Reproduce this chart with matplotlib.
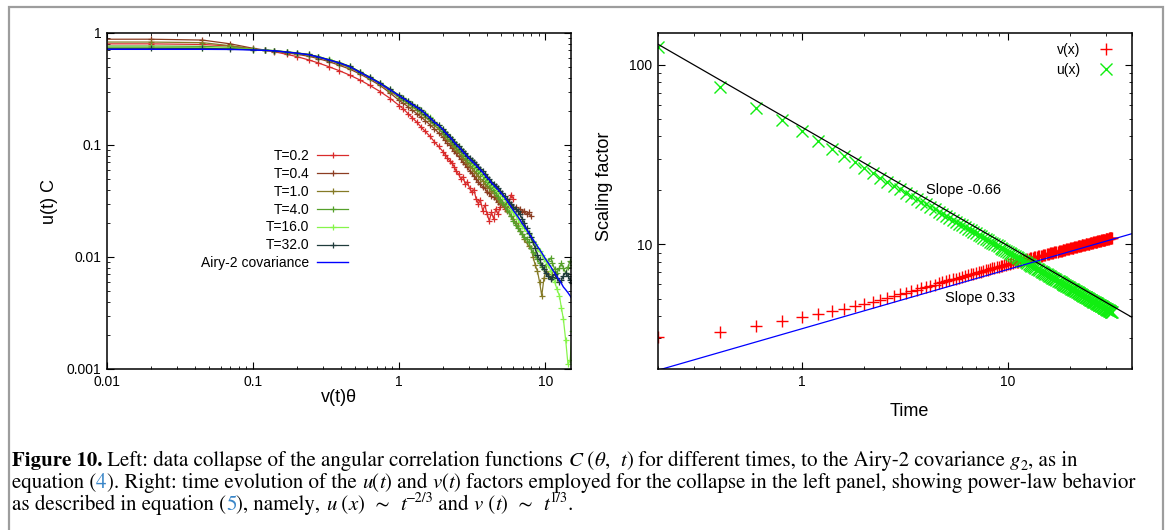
import numpy as np
import matplotlib
matplotlib.use('Agg')
import matplotlib.pyplot as plt
from matplotlib.ticker import LogLocator, NullFormatter, FuncFormatter
from matplotlib.patches import Rectangle

plt.rcParams['font.family'] = ['Liberation Sans', 'DejaVu Sans']

# ---- left panel: collapsed correlation functions ----
x_grid = [0.005, 0.02, 0.045, 0.07, 0.1, 0.12, 0.14, 0.17, 0.2, 0.24,
          0.28, 0.33, 0.39, 0.46, 0.54, 0.63, 0.74, 0.87, 1.0, 1.07,
          1.15, 1.23, 1.32, 1.41, 1.51, 1.62, 1.74, 1.86, 2.0, 2.07,
          2.14, 2.22, 2.3, 2.38, 2.46, 2.55, 2.64, 2.73, 2.83, 2.93,
          3.03, 3.14, 3.25, 3.36, 3.48, 3.6, 3.73, 3.86, 4.0, 4.14,
          4.28, 4.43, 4.59, 4.75, 4.92, 5.09, 5.27, 5.45, 5.64, 5.84,
          6.05, 6.26, 6.48, 6.71, 6.94, 7.18, 7.44, 7.7, 7.97, 8.25,
          8.53, 8.83, 9.14, 9.46, 9.8, 10.1, 10.5, 10.9, 11.2, 11.6,
          12.0, 12.5, 12.9, 13.3, 13.8, 14.3, 14.8, 15.3]

c_t02 = [0.80, 0.80, 0.79, 0.765, 0.72, 0.70, 0.68, 0.645, 0.615, 0.575,
         0.54, 0.50, 0.46, 0.42, 0.38, 0.34, 0.30, 0.26, 0.225, 0.21,
         0.19, 0.175, 0.16, 0.145, 0.132, 0.12, 0.107, 0.097, 0.087, 0.082,
         0.077, 0.072, 0.069, 0.064, 0.058, 0.055, 0.05, 0.052, 0.045, 0.047,
         0.041, 0.038, 0.040, 0.033, 0.030, 0.032, 0.026, 0.029, 0.024, 0.021,
         0.025, 0.022, 0.027, 0.024, 0.028, 0.030, 0.027, 0.033, 0.031, 0.036,
         0.033]
c_t04 = [0.88, 0.88, 0.865, 0.80, 0.73, 0.705, 0.69, 0.665, 0.645, 0.62,
         0.59, 0.555, 0.515, 0.475, 0.43, 0.385, 0.34, 0.29, 0.25, 0.235,
         0.22, 0.205, 0.19, 0.178, 0.165, 0.152, 0.14, 0.128, 0.117, 0.111,
         0.105, 0.10, 0.094, 0.089, 0.084, 0.079, 0.075, 0.071, 0.067, 0.063,
         0.059, 0.056, 0.053, 0.05, 0.047, 0.045, 0.042, 0.041, 0.038, 0.037,
         0.035, 0.034, 0.033, 0.031, 0.030, 0.031, 0.029, 0.030, 0.028, 0.029,
         0.027, 0.028, 0.026, 0.027, 0.025, 0.026, 0.024, 0.025, 0.023]
c_t1 = [0.83, 0.83, 0.82, 0.77, 0.72, 0.70, 0.69, 0.67, 0.655, 0.635,
        0.605, 0.57, 0.53, 0.49, 0.44, 0.395, 0.35, 0.30, 0.265, 0.25,
        0.235, 0.22, 0.205, 0.193, 0.178, 0.164, 0.15, 0.139, 0.126, 0.12,
        0.114, 0.108, 0.102, 0.096, 0.091, 0.086, 0.081, 0.077, 0.073, 0.069,
        0.065, 0.062, 0.059, 0.056, 0.053, 0.05, 0.048, 0.045, 0.043, 0.041,
        0.039, 0.037, 0.035, 0.033, 0.031, 0.030, 0.028, 0.026, 0.025, 0.023,
        0.022, 0.020, 0.019, 0.017, 0.016, 0.0145, 0.0135, 0.0125, 0.012, 0.010,
        0.0085, 0.0075, 0.006, 0.0045, 0.0065, 0.0075, 0.007, 0.0065, 0.0075]
c_t4 = [0.765, 0.765, 0.76, 0.745, 0.715, 0.705, 0.695, 0.675, 0.66, 0.64,
        0.61, 0.575, 0.54, 0.50, 0.45, 0.40, 0.355, 0.31, 0.272, 0.257,
        0.242, 0.227, 0.213, 0.201, 0.186, 0.171, 0.157, 0.146, 0.133, 0.126,
        0.12, 0.114, 0.108, 0.102, 0.097, 0.092, 0.088, 0.083, 0.079, 0.075,
        0.071, 0.068, 0.065, 0.062, 0.059, 0.056, 0.053, 0.050, 0.047, 0.045,
        0.042, 0.040, 0.037, 0.035, 0.033, 0.031, 0.029, 0.027, 0.025, 0.023,
        0.021, 0.0195, 0.018, 0.017, 0.016, 0.015, 0.0145, 0.0135, 0.012, 0.011,
        0.0105, 0.0095, 0.0088, 0.0082, 0.0078, 0.0085, 0.0092, 0.0098, 0.0088, 0.0078,
        0.0072, 0.0080, 0.0088, 0.0080, 0.0072, 0.0082, 0.0092, 0.0085]
c_t16 = [0.745, 0.745, 0.74, 0.73, 0.712, 0.705, 0.697, 0.68, 0.665, 0.645,
         0.615, 0.58, 0.545, 0.505, 0.45, 0.405, 0.36, 0.315, 0.278, 0.263,
         0.248, 0.233, 0.22, 0.207, 0.192, 0.177, 0.162, 0.151, 0.138, 0.131,
         0.125, 0.119, 0.113, 0.107, 0.102, 0.097, 0.092, 0.088, 0.083, 0.079,
         0.075, 0.072, 0.068, 0.065, 0.062, 0.059, 0.056, 0.053, 0.050, 0.048,
         0.045, 0.043, 0.041, 0.039, 0.037, 0.035, 0.033, 0.031, 0.029, 0.027,
         0.025, 0.0235, 0.022, 0.0205, 0.019, 0.018, 0.017, 0.016, 0.015, 0.014,
         0.013, 0.012, 0.0112, 0.0104, 0.0096, 0.0092, 0.0085, 0.0075, 0.0065, 0.006,
         0.0052, 0.0045, 0.0035, 0.0028, 0.0018, 0.0011, 0.0012, 0.0022]
c_t32 = [0.73, 0.73, 0.728, 0.722, 0.708, 0.702, 0.695, 0.678, 0.663, 0.643,
         0.613, 0.578, 0.543, 0.503, 0.448, 0.403, 0.358, 0.313, 0.277, 0.262,
         0.247, 0.232, 0.219, 0.206, 0.191, 0.176, 0.161, 0.151, 0.138, 0.131,
         0.125, 0.119, 0.113, 0.107, 0.102, 0.097, 0.093, 0.088, 0.084, 0.080,
         0.076, 0.073, 0.070, 0.067, 0.064, 0.061, 0.058, 0.055, 0.052, 0.050,
         0.047, 0.045, 0.043, 0.041, 0.039, 0.037, 0.035, 0.033, 0.031, 0.030,
         0.028, 0.027, 0.026, 0.024, 0.022, 0.020, 0.018, 0.0165, 0.015, 0.0135,
         0.012, 0.0105, 0.0095, 0.0085, 0.0078, 0.0072, 0.0068, 0.0064, 0.0066, 0.007,
         0.0065, 0.006, 0.0062, 0.0068, 0.0072, 0.0068, 0.0062, 0.0058]
airy2 = [0.715, 0.715, 0.715, 0.713, 0.705, 0.70, 0.693, 0.675, 0.66, 0.64,
         0.61, 0.575, 0.54, 0.50, 0.445, 0.40, 0.355, 0.31, 0.275, 0.26,
         0.245, 0.23, 0.217, 0.205, 0.19, 0.175, 0.16, 0.15, 0.137, 0.13,
         0.124, 0.118, 0.112, 0.106, 0.101, 0.096, 0.092, 0.087, 0.083, 0.079,
         0.075, 0.072, 0.069, 0.066, 0.063, 0.060, 0.057, 0.054, 0.051, 0.049,
         0.046, 0.044, 0.042, 0.040, 0.038, 0.036, 0.034, 0.032, 0.030, 0.028,
         0.026, 0.0245, 0.023, 0.0215, 0.020, 0.0188, 0.0176, 0.0164, 0.0153, 0.0143,
         0.0134, 0.0125, 0.0117, 0.0109, 0.0101, 0.0095, 0.0088, 0.0082, 0.0077, 0.0072,
         0.0067, 0.0062, 0.0058, 0.0054, 0.0051, 0.0048, 0.0045, 0.0042]

series_labels = ['T=0.2', 'T=0.4', 'T=1.0', 'T=4.0', 'T=16.0', 'T=32.0']
series_values = [c_t02, c_t04, c_t1, c_t4, c_t16, c_t32]
series_colors = ['#d92b2b', '#8c3d22', '#857a26', '#55a02a', '#86f54a', '#203c3c']

# ---- right panel: scaling factors ----
time = np.round(np.arange(1, 161) * 0.2, 1)
v_fac = [3.05, 3.26, 3.50, 3.75, 3.95, 4.12, 4.27, 4.40, 4.52, 4.65,
         4.79, 4.93, 5.06, 5.18, 5.29, 5.40, 5.51, 5.61, 5.71, 5.80,
         5.90, 5.98, 6.07, 6.15, 6.23, 6.31, 6.39, 6.46, 6.54, 6.61,
         6.68, 6.75, 6.81, 6.88, 6.94, 7.01, 7.07, 7.13, 7.19, 7.25,
         7.30, 7.36, 7.42, 7.47, 7.52, 7.58, 7.63, 7.68, 7.73, 7.78,
         7.82, 7.87, 7.91, 7.96, 8.00, 8.04, 8.08, 8.12, 8.16, 8.20,
         8.24, 8.28, 8.32, 8.36, 8.39, 8.43, 8.47, 8.51, 8.54, 8.58,
         8.61, 8.65, 8.68, 8.72, 8.75, 8.78, 8.82, 8.85, 8.88, 8.92,
         8.95, 8.98, 9.01, 9.04, 9.07, 9.10, 9.13, 9.16, 9.19, 9.22,
         9.25, 9.28, 9.31, 9.34, 9.37, 9.39, 9.42, 9.45, 9.48, 9.51,
         9.54, 9.57, 9.59, 9.62, 9.65, 9.67, 9.70, 9.73, 9.75, 9.78,
         9.80, 9.83, 9.85, 9.88, 9.90, 9.93, 9.95, 9.98, 10.00, 10.03,
         10.05, 10.07, 10.10, 10.12, 10.14, 10.17, 10.19, 10.21, 10.24, 10.26,
         10.28, 10.31, 10.33, 10.35, 10.37, 10.39, 10.42, 10.44, 10.46, 10.48,
         10.50, 10.53, 10.55, 10.57, 10.59, 10.61, 10.63, 10.65, 10.67, 10.69,
         10.71, 10.73, 10.76, 10.78, 10.80, 10.82, 10.84, 10.86, 10.88, 10.90]
u_fac = [125.0, 75.0, 57.4, 49.0, 42.5, 37.7, 34.1, 31.2, 28.6, 26.5,
         24.87, 23.47, 22.26, 21.19, 20.24, 19.39, 18.62, 17.93, 17.29, 16.71,
         16.18, 15.69, 15.23, 14.80, 14.41, 14.04, 13.69, 13.36, 13.05, 12.76,
         12.49, 12.23, 11.98, 11.74, 11.52, 11.31, 11.10, 10.91, 10.72, 10.54,
         10.37, 10.20, 10.05, 9.89, 9.75, 9.60, 9.47, 9.34, 9.21, 9.09,
         8.97, 8.86, 8.74, 8.64, 8.53, 8.43, 8.33, 8.24, 8.14, 8.05,
         7.96, 7.88, 7.79, 7.71, 7.63, 7.56, 7.48, 7.41, 7.34, 7.27,
         7.20, 7.13, 7.07, 7.00, 6.94, 6.88, 6.82, 6.76, 6.71, 6.65,
         6.60, 6.54, 6.49, 6.44, 6.39, 6.34, 6.29, 6.24, 6.19, 6.15,
         6.10, 6.06, 6.02, 5.97, 5.93, 5.89, 5.85, 5.81, 5.77, 5.73,
         5.69, 5.66, 5.62, 5.58, 5.55, 5.51, 5.48, 5.44, 5.41, 5.38,
         5.35, 5.31, 5.28, 5.25, 5.22, 5.19, 5.16, 5.13, 5.10, 5.08,
         5.05, 5.02, 4.99, 4.97, 4.94, 4.92, 4.89, 4.86, 4.84, 4.81,
         4.79, 4.77, 4.74, 4.72, 4.70, 4.67, 4.65, 4.63, 4.61, 4.58,
         4.56, 4.54, 4.52, 4.50, 4.48, 4.46, 4.44, 4.42, 4.40, 4.38,
         4.36, 4.34, 4.32, 4.30, 4.28, 4.26, 4.25, 4.23, 4.21, 4.19]

# power-law fits quoted on the plot
u_amp, u_slope = 44.9, -0.66
v_amp, v_slope = 3.40, 0.33

W, H = 1168, 530
fig = plt.figure(figsize=(W / 100, H / 100), dpi=100)

# grey frame round the figure
fig.patches.append(Rectangle((9 / W, -0.05), (1163 - 9) / W, 1.05 - 7 / H,
                             transform=fig.transFigure, fill=False,
                             edgecolor='#9d9d9d', lw=1.6))

ax1 = fig.add_axes([107 / W, 1 - 369 / H, 464 / W, 336 / H])
ax2 = fig.add_axes([658 / W, 1 - 369 / H, 474 / W, 336 / H])

fmt = FuncFormatter(lambda v, p: '%g' % v)
for ax in (ax1, ax2):
    ax.set_xscale('log')
    ax.set_yscale('log')
    ax.tick_params(which='both', direction='in', top=True, right=True,
                   labelsize=10, pad=4)
    ax.tick_params(which='major', length=5, width=0.8)
    ax.tick_params(which='minor', length=2.5, width=0.6)
    for s in ax.spines.values():
        s.set_linewidth(1.1)
    ax.xaxis.set_major_locator(LogLocator(base=10))
    ax.yaxis.set_major_locator(LogLocator(base=10))
    ax.xaxis.set_minor_locator(LogLocator(base=10, subs=np.arange(2, 10)))
    ax.yaxis.set_minor_locator(LogLocator(base=10, subs=np.arange(2, 10)))
    ax.xaxis.set_major_formatter(fmt)
    ax.yaxis.set_major_formatter(fmt)
    ax.xaxis.set_minor_formatter(NullFormatter())
    ax.yaxis.set_minor_formatter(NullFormatter())

# left
for lab, vals, col in zip(series_labels, series_values, series_colors):
    ax1.plot(x_grid[:len(vals)], vals, '-', marker='+', color=col, lw=0.9,
             ms=4.5, mew=0.9, label=lab)
ax1.plot(x_grid, airy2, '-', color='#0000ff', lw=1.0, label='Airy-2 covariance')
ax1.set_xlim(0.01, 15)
ax1.set_ylim(0.001, 1)
ax1.set_xlabel('v(t)θ', fontsize=13)
ax1.set_ylabel('u(t) C', fontsize=13)
ax1.xaxis.set_label_coords(0.499, -0.06)
ax1.yaxis.set_label_coords(-0.106, 0.5)
ax1.legend(loc='upper right', bbox_to_anchor=(0.519, 0.655), frameon=False,
           markerfirst=False, fontsize=10, handlelength=2.2, handletextpad=0.55,
           labelspacing=0.28, borderpad=0, borderaxespad=0, numpoints=1)

# right
ax2.plot(time, v_fac, ls='none', marker='+', color='#ff0000', ms=9, mew=1.0,
         label='v(x)')
ax2.plot(time, u_fac, ls='none', marker='x', color='#11ee11', ms=8, mew=1.0,
         label='u(x)')
t_line = np.array([0.2, 40.0])
ax2.plot(t_line, u_amp * t_line ** u_slope, color='black', lw=0.9)
ax2.plot(t_line, v_amp * t_line ** v_slope, color='#0000ff', lw=0.9)
ax2.text(4.0, 20.1, 'Slope -0.66', fontsize=10.5, va='center')
ax2.text(4.96, 5.05, 'Slope 0.33', fontsize=10.5, va='center')
ax2.set_xlim(0.2, 40)
ax2.set_ylim(2.03, 150)
ax2.set_xlabel('Time', fontsize=13)
ax2.set_ylabel('Scaling factor', fontsize=13)
ax2.xaxis.set_label_coords(0.53, -0.1)
ax2.yaxis.set_label_coords(-0.095, 0.545)
ax2.legend(loc='upper right', bbox_to_anchor=(0.968, 0.970), frameon=False,
           markerfirst=False, fontsize=10, handlelength=1.6, handletextpad=1.0,
           labelspacing=0.45, borderpad=0, borderaxespad=0)

# caption, drawn piece by piece (bold, italic, super/subscripts, link colour)
cap_size = 15.0
link = '#3a86c8'
styles = {
    'n': dict(),
    'b': dict(fontweight='bold'),
    'i': dict(fontstyle='italic'),
    'l': dict(color=link),
    'sup': dict(scale=0.68, rise=7.5),
    'sub': dict(scale=0.68, rise=-4.0),
}
cap_lines = [
    [('Figure 10.', 'b'), (' Left: data collapse of the angular correlation functions ', 'n'),
     ('C', 'i'), (' (', 'n'), ('θ', 'i'), (',  ', 'n'), ('t', 'i'), (')', 'n'),
     (' for different times, to the Airy-2 covariance ', 'n'), ('g', 'i'), ('2', 'sub'),
     (', as in', 'n')],
    [('equation (', 'n'), ('4', 'l'), ('). Right: time evolution of the ', 'n'),
     ('u', 'i'), ('(', 'n'), ('t', 'i'), (') and ', 'n'), ('v', 'i'), ('(', 'n'), ('t', 'i'),
     (') factors employed for the collapse in the left panel, showing power-law behavior', 'n')],
    [('as described in equation (', 'n'), ('5', 'l'), ('), namely, ', 'n'),
     ('u', 'i'), (' (', 'n'), ('x', 'i'), (')  ∼  ', 'n'), ('t', 'i'), ('−2/3', 'sup'),
     (' and ', 'n'), ('v', 'i'), (' (', 'n'), ('t', 'i'), (')  ∼  ', 'n'), ('t', 'i'),
     ('1/3', 'sup'), ('.', 'n')],
]
cap_base = [466, 488, 510]
renderer = fig.canvas.get_renderer()
for pieces, yb in zip(cap_lines, cap_base):
    x = 12.0
    for s, key in pieces:
        st = dict(styles[key])
        scale = st.pop('scale', 1.0)
        rise = st.pop('rise', 0.0)
        st.setdefault('color', 'black')
        t = fig.text(x / W, 1 - (yb - rise) / H, s, fontsize=cap_size * scale,
                     family='STIXGeneral', va='baseline', ha='left', **st)
        x += t.get_window_extent(renderer).width

fig.savefig('out.png', dpi=100)
